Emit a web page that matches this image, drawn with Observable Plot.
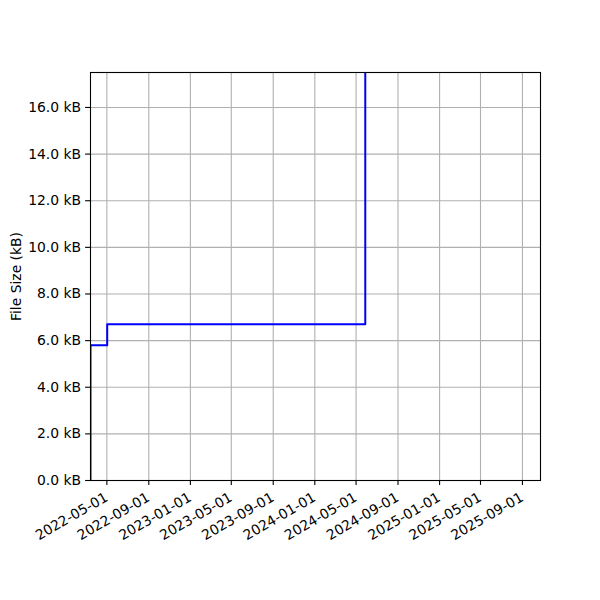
<!DOCTYPE html>
<html>
<head>
<meta charset="utf-8">
<script src="https://cdn.jsdelivr.net/npm/d3@7"></script>
<script src="https://cdn.jsdelivr.net/npm/@observablehq/plot@0.6"></script>
<style>
body { margin: 0; background: #fff; }
svg text { font-family: "DejaVu Sans", sans-serif !important; }
</style>
</head>
<body>
<div id="chart"></div>
<script>
const dates = ["2022-03-14", "2022-03-14", "2022-05-02", "2024-05-28", "2025-10-24"];
const sizesKB = [0, 5.8, 6.7, 25, 25];
const xTickLabels = ["2022-05-01","2022-09-01","2023-01-01","2023-05-01","2023-09-01","2024-01-01","2024-05-01","2024-09-01","2025-01-01","2025-05-01","2025-09-01"];
const yTicks = [0, 2, 4, 6, 8, 10, 12, 14, 16];

const data = dates.map((d, i) => ({date: new Date(d + "T00:00:00Z"), size: sizesKB[i]}));
const xTicks = xTickLabels.map(d => new Date(d + "T00:00:00Z"));
const FONT = "DejaVu Sans";

const chart = Plot.plot({
  width: 600,
  height: 600,
  marginLeft: 90,
  marginRight: 60,
  marginTop: 72,
  marginBottom: 120,
  style: {fontFamily: "'DejaVu Sans', sans-serif", fontSize: "13.9px", color: "black", background: "white"},
  x: {type: "utc", domain: [new Date("2022-03-14T00:00:00Z"), new Date("2025-10-24T00:00:00Z")]},
  y: {domain: [0, 17.5]},
  marks: [
    Plot.gridX(xTicks, {stroke: "#b0b0b0", strokeOpacity: 1, strokeWidth: 1.1}),
    Plot.gridY(yTicks, {stroke: "#b0b0b0", strokeOpacity: 1, strokeWidth: 1.1}),
    Plot.lineY(data, {x: "date", y: "size", curve: "step-after", stroke: "blue", strokeWidth: 2, clip: true}),
    Plot.frame({stroke: "black", strokeWidth: 1.1}),
    Plot.axisX({ticks: xTicks, tickFormat: () => "", tickSize: 4.9, label: null, strokeWidth: 1.1}),
    Plot.text(xTicks, {x: d => d, text: d3.utcFormat("%Y-%m-%d"), frameAnchor: "bottom", dx: -3, dy: 11, rotate: -30, textAnchor: "end", lineAnchor: "top", fontSize: 13.9, fontFamily: FONT, fill: "black"}),
    Plot.axisY({ticks: yTicks, tickFormat: d => d.toFixed(1) + " kB", tickSize: 4.9, tickPadding: 4.5, label: null, fontSize: 13.9, fontFamily: FONT, strokeWidth: 1.1}),
    Plot.text(["File Size (kB)"], {frameAnchor: "left", dx: -74, rotate: -90, textAnchor: "middle", fontSize: 13.9, fontFamily: FONT, fill: "black"})
  ]
});
document.getElementById("chart").appendChild(chart);
</script>
</body>
</html>
